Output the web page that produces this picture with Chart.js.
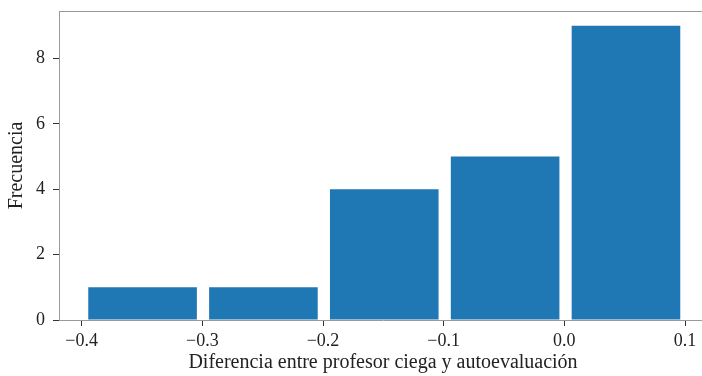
<!DOCTYPE html>
<html>
<head>
<meta charset="utf-8">
<script src="https://cdn.jsdelivr.net/npm/chart.js@4.4.1/dist/chart.umd.min.js"></script>
<style>
  html, body { margin: 0; padding: 0; background: #fff; overflow: hidden; }
  #wrap { width: 707px; height: 376px; }
</style>
</head>
<body>
<div id="wrap"><canvas id="c" width="707" height="376"></canvas></div>
<script>
// Histogram of the difference between blind teacher grade and self-assessment
const binEdges = [-0.3996, -0.2995, -0.1993, -0.0992, 0.0010, 0.1011];
const counts = [1, 1, 4, 5, 9];
const xTicks = [-0.4, -0.3, -0.2, -0.1, 0.0, 0.1];
const yTicks = [0, 2, 4, 6, 8];
const xLabel = 'Diferencia entre profesor ciega y autoevaluación';
const yLabel = 'Frecuencia';

const points = counts.map((n, i) => ({ x: (binEdges[i] + binEdges[i + 1]) / 2, y: n }));

const FONT = '"Liberation Serif", "Times New Roman", serif';
const spineColor = '#9a9a9a';

// top spine of the axes box
const topSpine = {
  id: 'topSpine',
  afterDraw(chart) {
    const { ctx, chartArea } = chart;
    ctx.save();
    ctx.strokeStyle = spineColor;
    ctx.lineWidth = 1;
    ctx.beginPath();
    ctx.moveTo(chartArea.left, chartArea.top + 0.5);
    ctx.lineTo(chartArea.right, chartArea.top + 0.5);
    ctx.stroke();
    ctx.restore();
  }
};

new Chart(document.getElementById('c'), {
  type: 'bar',
  data: {
    datasets: [{
      data: points,
      backgroundColor: '#1f77b4',
      borderWidth: 0,
      barPercentage: 0.9,
      categoryPercentage: 1.0
    }]
  },
  options: {
    responsive: false,
    animation: false,
    layout: { padding: { top: 11, right: 0, left: 0, bottom: 0 } },
    plugins: { legend: { display: false }, tooltip: { enabled: false } },
    scales: {
      x: {
        type: 'linear',
        offset: false,
        min: -0.4188,
        max: 0.1182,
        afterBuildTicks(scale) { scale.ticks = xTicks.map(v => ({ value: v })); },
        afterFit(scale) {
          scale.height = 56;
          scale.paddingLeft = 0;
          scale.paddingRight = 0;
        },
        ticks: {
          autoSkip: false,
          maxRotation: 0,
          padding: 4,
          color: '#222',
          font: { family: FONT, size: 18 },
          callback: v => v.toFixed(1).replace('-', '\u2212')
        },
        grid: { offset: false, drawOnChartArea: false, drawTicks: true, tickLength: 6, tickColor: '#333' },
        border: { display: true, color: spineColor, width: 1 },
        title: {
          display: true,
          text: xLabel,
          color: '#222',
          font: { family: FONT, size: 20 },
          padding: { top: 0, bottom: 1 }
        }
      },
      y: {
        min: 0,
        max: 9.45,
        afterBuildTicks(scale) { scale.ticks = yTicks.map(v => ({ value: v })); },
        afterFit(scale) {
          scale.width = 59;
          scale.paddingTop = 0;
          scale.paddingBottom = 0;
        },
        ticks: {
          padding: 8,
          color: '#222',
          font: { family: FONT, size: 18 },
          callback: v => String(v)
        },
        grid: { drawOnChartArea: false, drawTicks: true, tickLength: 6, tickColor: '#333' },
        border: { display: true, color: spineColor, width: 1 },
        title: {
          display: true,
          text: yLabel,
          color: '#222',
          font: { family: FONT, size: 20 },
          padding: { top: 5, bottom: 0 }
        }
      }
    }
  },
  plugins: [topSpine]
});
</script>
</body>
</html>
